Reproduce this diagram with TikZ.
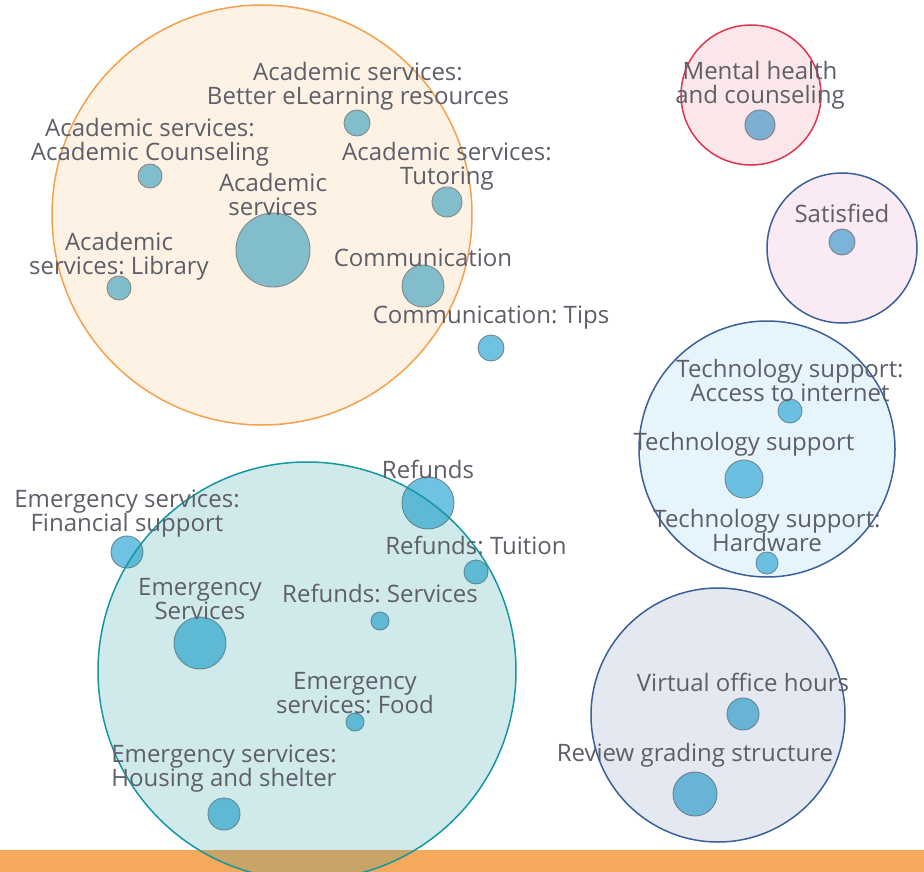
\documentclass[tikz,border=0pt]{standalone}
\usepackage{fontspec}
\setmainfont{Open Sans}
\frenchspacing
\definecolor{bubfill}{HTML}{70C2E2}
\definecolor{bubline}{HTML}{6F858E}
\definecolor{txt}{HTML}{5E5E69}
\definecolor{orng}{HTML}{F5A04A}
\definecolor{redc}{HTML}{E0344F}
\definecolor{bluec}{HTML}{3A5F99}
\definecolor{tealc}{HTML}{14979E}
\definecolor{pinkf}{HTML}{D04FA0}
\definecolor{techf}{HTML}{4FB0E0}
\definecolor{barc}{HTML}{F5A95A}
\begin{document}
\begin{tikzpicture}[x=1pt,y=-1pt,
  bub/.style={circle, draw=bubline, fill=bubfill, line width=0.9pt, inner sep=0pt, minimum size=#1},
  grp/.style={circle, inner sep=0pt, line width=1.5pt, fill opacity=0.14, minimum size=#1},
  lbl/.style={text=txt, font=\fontsize{24}{24}\selectfont, align=center, inner sep=0pt}
]
\useasboundingbox (0,0) rectangle (924,872);
% bottom bar
\fill[barc] (0,850) rectangle (924,872);
% bubbles
\node[bub=26] (b-elearn) at (357,123) {};
\node[bub=24] (b-counsel) at (150,176) {};
\node[bub=74] (b-acad) at (273,250) {};
\node[bub=30] (b-tutor) at (447,202) {};
\node[bub=24] (b-library) at (119,288) {};
\node[bub=42] (b-comm) at (423,286) {};
\node[bub=26] (b-tips) at (491,348) {};
\node[bub=30] (b-mental) at (760,125) {};
\node[bub=26] (b-satisfied) at (842,242) {};
\node[bub=24] (b-access) at (790,411) {};
\node[bub=38] (b-tech) at (744,479) {};
\node[bub=22] (b-hardware) at (767,563) {};
\node[bub=52] (b-refunds) at (428,503) {};
\node[bub=24] (b-tuition) at (476,572) {};
\node[bub=18] (b-services) at (380,621) {};
\node[bub=52] (b-emerg) at (200,643) {};
\node[bub=32] (b-financial) at (127,552) {};
\node[bub=18] (b-food) at (355,722) {};
\node[bub=32] (b-housing) at (224,814) {};
\node[bub=32] (b-virtual) at (743,714) {};
\node[bub=44] (b-review) at (695,794) {};
% group circles
\node[grp=420, draw=orng, fill=orng] (g-academic) at (262,215) {};
\node[grp=140, draw=redc, fill=redc, fill opacity=0.12] (g-mental) at (751,95) {};
\node[grp=150, draw=bluec, fill=pinkf, fill opacity=0.12] (g-satisfied) at (842,248) {};
\node[grp=256, draw=bluec, fill=techf] (g-tech) at (767,449) {};
\node[grp=418, draw=tealc, fill=tealc, fill opacity=0.2] (g-emerg) at (307,671) {};
\node[grp=254, draw=bluec, fill=bluec] (g-teach) at (718,715) {};
% labels
\node[lbl] (l-elearn) at (358,86) {Academic services:\\Better eLearning resources};
\node[lbl] (l-counsel) at (150,142) {Academic services:\\Academic Counseling};
\node[lbl] (l-acad) at (273,194) {Academic\\services};
\node[lbl] (l-tutor) at (447,166) {Academic services:\\Tutoring};
\node[lbl] (l-library) at (119,256) {Academic\\services: Library};
\node[lbl] (l-comm) at (423,258) {Communication};
\node[lbl] (l-tips) at (491,318) {Communication: Tips};
\node[lbl] (l-mental) at (760,85) {Mental health\\and counseling};
\node[lbl] (l-satisfied) at (842,213) {Satisfied};
\node[lbl] (l-access) at (790,380) {Technology support:\\Access to internet};
\node[lbl] (l-tech) at (744,444) {Technology support};
\node[lbl] (l-hardware) at (767,530) {Technology support:\\Hardware};
\node[lbl] (l-refunds) at (428,469) {Refunds};
\node[lbl] (l-tuition) at (476,545) {Refunds: Tuition};
\node[lbl] (l-services) at (380,593) {Refunds: Services};
\node[lbl] (l-emerg) at (200,599) {Emergency\\Services};
\node[lbl] (l-financial) at (127,514) {Emergency services:\\Financial support};
\node[lbl] (l-food) at (355,693) {Emergency\\services: Food};
\node[lbl] (l-housing) at (224,769) {Emergency services:\\Housing and shelter};
\node[lbl] (l-virtual) at (743,682) {Virtual office hours};
\node[lbl] (l-review) at (695,755) {Review grading structure};
\end{tikzpicture}
\end{document}
